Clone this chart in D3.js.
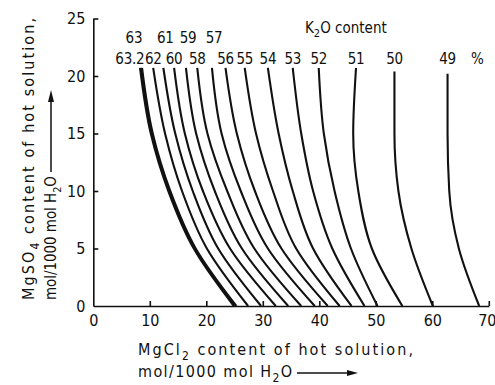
<!DOCTYPE html>
<html><head><meta charset="utf-8">
<script src="https://cdn.jsdelivr.net/npm/d3@7"></script>
<style>
html,body{margin:0;padding:0;background:#fff;}
text{font-family:"DejaVu Sans Condensed","DejaVu Sans",sans-serif;font-stretch:condensed;fill:#111;}
</style></head>
<body><svg id="c" width="495" height="385"></svg>
<script>
// K2O content (%) of each isoline
const k2oLabels = ["63.2","63","62","61","60","59","58","57","56","55","54","53","52","51","50","49"];
// MgSO4 levels (mol/1000 mol H2O) at which MgCl2 values were read
const mgso4Levels = [0, 5, 10, 15];
// top end of each isoline (MgSO4)
const topMgso4 = [20.7,20.7,20.7,20.7,20.7,20.7,20.7,20.7,20.7,20.7,20.7,20.7,20.7,20.7,20.4,20.2];
// MgCl2 values at MgSO4 = 0, 5, 10, 15, top
const mgcl2_632 = [24.9,17.8,13.3,10.2,8.3];
const mgcl2_63  = [25.3,18.1,13.6,10.5,8.6];
const mgcl2_62  = [27.4,20.1,15.7,12.7,10.6];
const mgcl2_61  = [29.7,22.1,17.6,14.5,12.4];
const mgcl2_60  = [32.3,24.2,19.4,16.2,14.3];
const mgcl2_59  = [34.5,26.3,21.5,18.2,16.4];
const mgcl2_58  = [36.8,28.5,23.7,20.2,18.4];
const mgcl2_57  = [39.2,30.9,26.1,22.7,21.0];
const mgcl2_56  = [41.5,33.3,28.6,25.4,23.4];
const mgcl2_55  = [43.6,35.9,31.8,28.8,26.8];
const mgcl2_54  = [45.7,38.9,35.3,32.8,30.9];
const mgcl2_53  = [48.0,42.3,38.9,36.8,35.3];
const mgcl2_52  = [50.3,45.6,42.7,40.8,39.9];
const mgcl2_51  = [54.7,49.3,46.9,46.0,46.5];
const mgcl2_50  = [60.1,56.3,54.0,53.3,53.3];
const mgcl2_49  = [68.3,64.7,63.0,62.7,62.7];
const series = [mgcl2_632,mgcl2_63,mgcl2_62,mgcl2_61,mgcl2_60,mgcl2_59,mgcl2_58,mgcl2_57,
                mgcl2_56,mgcl2_55,mgcl2_54,mgcl2_53,mgcl2_52,mgcl2_51,mgcl2_50,mgcl2_49];
const xTicks = [0,10,20,30,40,50,60,70];
const yTicks = [0,5,10,15,20,25];
const upperRow = ["63","61","59","57"];

const svg = d3.select("#c");
const x = d3.scaleLinear().domain([0,70]).range([93.3,488.8]);
const y = d3.scaleLinear().domain([0,25]).range([306,18.5]);

// axes
const xa = svg.append("g").attr("transform","translate(0,306)")
  .call(d3.axisBottom(x).tickValues(xTicks).tickSize(-5).tickSizeOuter(0).tickPadding(9));
const ya = svg.append("g").attr("transform","translate(93.3,0)")
  .call(d3.axisLeft(y).tickValues(yTicks).tickSize(-5).tickSizeOuter(0).tickPadding(8));
[xa,ya].forEach(g=>{
  g.selectAll("path,line").attr("stroke","#111").attr("stroke-width",1.6);
  g.selectAll("text").style("font-size","16px").attr("fill","#111");
});
xa.selectAll(".tick").filter(d=>d===70).select("text").attr("dx",-2);
xa.selectAll(".tick").filter(d=>d===0).select("line").remove();
ya.selectAll(".tick").filter(d=>d===0).select("line").remove();

// isolines
const line = d3.line().x(d=>x(d[0])).y(d=>y(d[1])).curve(d3.curveMonotoneY);
series.forEach((s,i)=>{
  const pts = mgso4Levels.map((lv,j)=>[s[j],lv]);
  pts.push([s[4], topMgso4[i]]);
  svg.append("path").attr("d",line(pts)).attr("fill","none")
    .attr("stroke","#111").attr("stroke-width", i<2 ? 2.4 : 2.1);
});

// labels at the top of isolines
k2oLabels.forEach((lab,i)=>{
  const s = series[i];
  const up = upperRow.includes(lab);
  const t = svg.append("text").text(lab).style("font-size","15px")
    .style("letter-spacing","-0.3px")
    .attr("y", up ? 43 : 64);
  if (lab==="63.2") t.attr("x", x(s[4])+4).attr("text-anchor","end");
  else if (lab==="63") t.attr("x", x(s[4])-8).attr("text-anchor","middle");
  else t.attr("x", x(s[4])+(up? 2:0)).attr("text-anchor","middle");
});
svg.append("text").text("%").style("font-size","15px").attr("x",471).attr("y",64);

const k = svg.append("text").attr("x",305).attr("y",33).style("font-size","15px");
k.append("tspan").text("K");
k.append("tspan").text("2").attr("dy",4).style("font-size","11px");
k.append("tspan").text("O content").attr("dy",-4);

// x title
const xt1 = svg.append("text").attr("x",138).attr("y",355).style("font-size","16px");
xt1.append("tspan").text("MgCl");
xt1.append("tspan").text("2").attr("dy",5).style("font-size","12px");
xt1.append("tspan").text(" content of hot solution,").attr("dy",-5);
xt1.attr("textLength",275).attr("lengthAdjust","spacing");
const xt2 = svg.append("text").attr("x",138).attr("y",377).style("font-size","16px");
xt2.append("tspan").text("mol/1000 mol H");
xt2.append("tspan").text("2").attr("dy",5).style("font-size","12px");
xt2.append("tspan").text("O").attr("dy",-5);
xt2.attr("textLength",154).attr("lengthAdjust","spacing");
svg.append("line").attr("x1",297).attr("x2",350).attr("y1",373).attr("y2",373)
  .attr("stroke","#111").attr("stroke-width",1.5);
svg.append("path").attr("d","M347,370 L358,373 L347,376 Z").attr("fill","#111");

// y title
const yt1 = svg.append("text").attr("transform","translate(34,300) rotate(-90)").style("font-size","16px");
yt1.append("tspan").text("MgSO");
yt1.append("tspan").text("4").attr("dy",5).style("font-size","12px");
yt1.append("tspan").text(" content of hot solution,").attr("dy",-5);
yt1.attr("textLength",282).attr("lengthAdjust","spacing");
const yt2 = svg.append("text").attr("transform","translate(56,300) rotate(-90)").style("font-size","15px");
yt2.append("tspan").text("mol/1000 mol H");
yt2.append("tspan").text("2").attr("dy",5).style("font-size","11px");
yt2.append("tspan").text("O").attr("dy",-5);
yt2.attr("textLength",124).attr("lengthAdjust","spacing");
svg.append("line").attr("x1",51).attr("x2",51).attr("y1",172).attr("y2",100)
  .attr("stroke","#111").attr("stroke-width",1.5);
svg.append("path").attr("d","M48,102 L51,90 L54,102 Z").attr("fill","#111");
</script></body></html>
